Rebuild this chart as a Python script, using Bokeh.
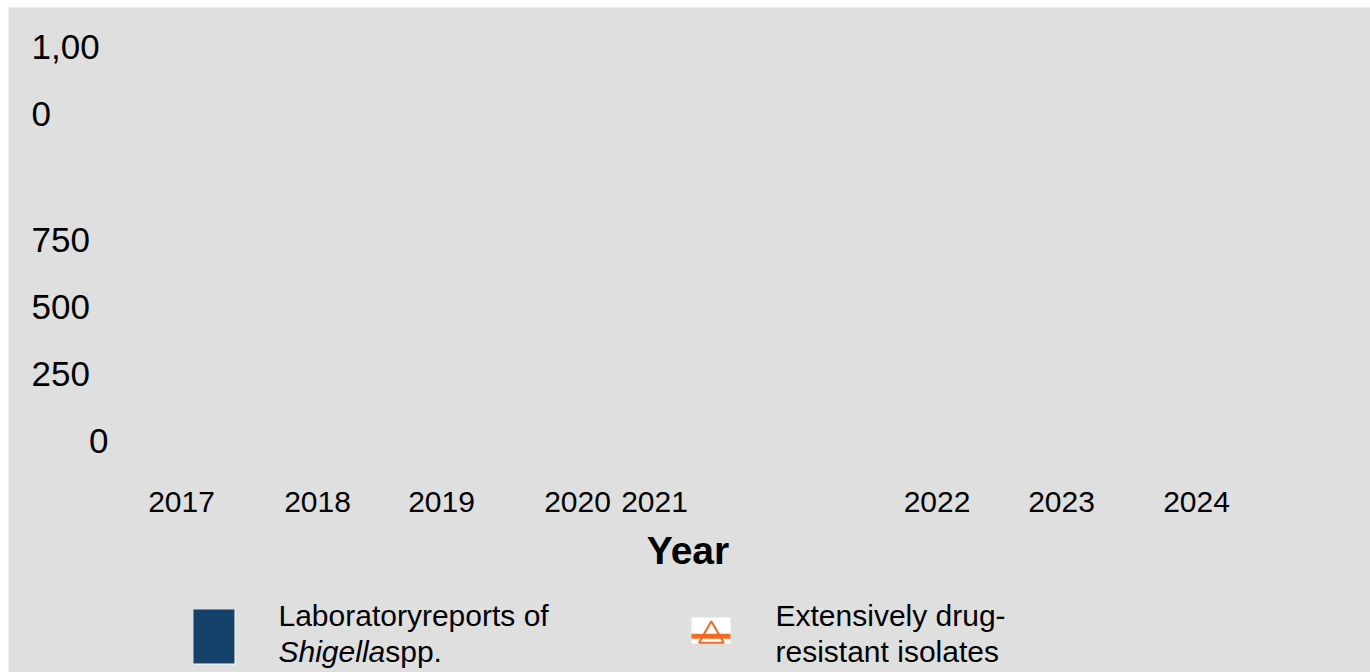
from bokeh.plotting import figure
from bokeh.models import Range1d
from bokeh.core.properties import value
from bokeh.embed import file_html
from bokeh.resources import INLINE

# ---- chart content ----
years = ["2017", "2018", "2019", "2020", "2021", "2022", "2023", "2024"]
y_tick_labels = ["0", "250", "500", "750", "1,000"]
x_axis_title = "Year"
legend_reports_line1 = "Laboratoryreports of"
legend_reports_italic = "Shigella"
legend_reports_rest = "spp."
legend_xdr_lines = ["Extensively drug-", "resistant isolates"]
bar_color = "#15426b"
line_color = "#f26b22"

# ---- layout (pixel positions of the reference's layout) ----
W, H = 1370, 672
LEFT, TOP = 8, 7
x_label_centers = [181, 317, 441, 577, 654, 936.5, 1061, 1196]
x_label_y = 501
y_label_left = 31
y_label_ys = [440.5, 373.5, 306.5, 239.5]      # for 0, 250, 500, 750
y_zero_left = 88.6
wrapped_top_ys = [46.5, 113.5]                 # wrapped "1,000"
legend_line_ys = [614.5, 650.5]
FONT = value("Liberation Sans")

p = figure(width=W, height=H, x_range=Range1d(LEFT, W), y_range=Range1d(H, TOP),
           x_axis_type=None, y_axis_type=None, toolbar_location=None,
           output_backend="svg",
           min_border_left=LEFT, min_border_top=TOP,
           min_border_right=0, min_border_bottom=0,
           background_fill_color="#dfdfdf", border_fill_color="#ffffff",
           outline_line_color=None)
p.grid.visible = False

# x tick labels
p.text(x=x_label_centers, y=[x_label_y] * len(years), text=years,
       text_font=FONT, text_font_size="30px", text_align="center",
       text_baseline="alphabetic", text_color="#000000")

# y tick labels (0 placed further right, 1,000 wrapped over two lines)
ylabs = y_tick_labels[:4]
yx = [y_zero_left] + [y_label_left] * 3
p.text(x=yx, y=y_label_ys, text=ylabs, text_font=FONT,
       text_font_size="35px", text_align="left", text_baseline="alphabetic",
       text_color="#000000")
top = y_tick_labels[4]
wrapped = [top[:4], top[4:]]
p.text(x=[y_label_left] * 2, y=wrapped_top_ys, text=wrapped, text_font=FONT,
       text_font_size="35px", text_align="left", text_baseline="alphabetic",
       text_color="#000000")

# axis title
p.text(x=[687.5], y=[549.5], text=[x_axis_title], text_font=FONT,
       text_font_size="39px", text_font_style="bold", text_align="center",
       text_baseline="alphabetic", text_color="#000000")

# legend item 1: bar swatch
p.rect(x=[214.5], y=[637], width=41, height=54, fill_color="#ffffff",
       line_color=None)
p.rect(x=[213.5], y=[636], width=41, height=54, fill_color=bar_color,
       line_color=None)
p.text(x=[278], y=[legend_line_ys[0]], text=[legend_reports_line1], text_font=FONT,
       text_font_size="30px", text_align="left", text_baseline="alphabetic",
       text_color="#000000")
p.text(x=[278], y=[legend_line_ys[1]], text=[legend_reports_italic], text_font=FONT,
       text_font_size="30px", text_font_style="italic", text_align="left",
       text_baseline="alphabetic", text_color="#000000")
p.text(x=[384.7], y=[legend_line_ys[1]], text=[legend_reports_rest], text_font=FONT,
       text_font_size="30px", text_align="left", text_baseline="alphabetic",
       text_color="#000000")

# legend item 2: line with triangle marker
p.rect(x=[710.5], y=[630], width=39, height=26, fill_color="#ffffff",
       line_color=None)
p.line(x=[691, 730], y=[635.8, 635.8], line_color=line_color, line_width=5)
p.patch(x=[698.5, 710.8, 723.3], y=[642.3, 620.8, 642.3], fill_color=None,
        line_color=line_color, line_width=2)
p.text(x=[775] * 2, y=legend_line_ys, text=legend_xdr_lines, text_font=FONT,
       text_font_size="30px", text_align="left", text_baseline="alphabetic",
       text_color="#000000")

open("out.html", "w").write(file_html(p, INLINE))
